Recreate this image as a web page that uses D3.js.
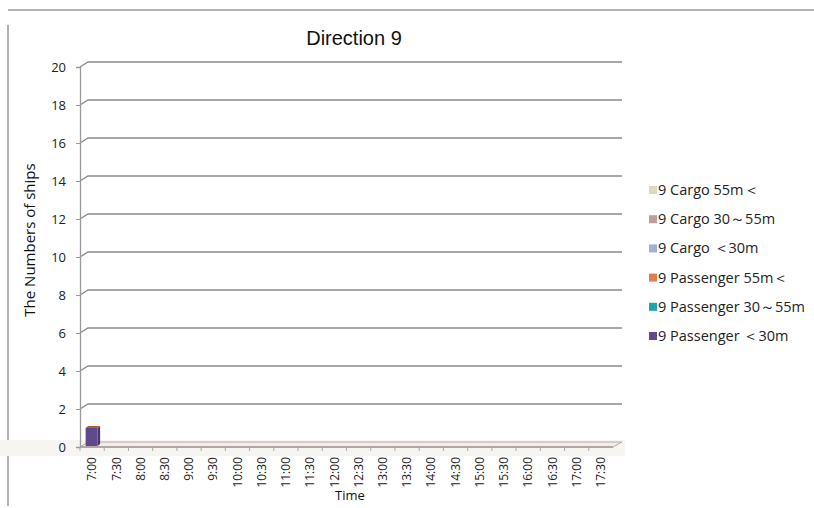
<!doctype html>
<html lang="en">
<head>
<meta charset="utf-8">
<title>Direction 9</title>
<style>
html, body { margin: 0; padding: 0; background: #fff; overflow: hidden; }
svg { display: block; }
.tick-y { font-family: 'Open Sans', sans-serif; font-size: 13px; fill: #222; }
.tick-x { font-family: 'Open Sans', sans-serif; font-size: 12px; fill: #222; }
.axis-title { font-family: 'Open Sans', sans-serif; font-size: 13px; fill: #111; }
.legend text { font-family: 'Open Sans', sans-serif; font-size: 14.5px; fill: #222; }
</style>
</head>
<body>
<script src="https://cdnjs.cloudflare.com/ajax/libs/d3/7.8.5/d3.min.js"></script>
<script>
// chart data
var times = ['7:00','7:30','8:00','8:30','9:00','9:30','10:00','10:30','11:00','11:30',
  '12:00','12:30','13:00','13:30','14:00','14:30','15:00','15:30','16:00','16:30','17:00','17:30'];
var seriesNames = ['9 Passenger \uFF1C30m', '9 Passenger 30\uFF5E55m', '9 Passenger 55m\uFF1C',
  '9 Cargo \uFF1C30m', '9 Cargo 30\uFF5E55m', '9 Cargo 55m\uFF1C'];
var passengerSmall = [1,0,0,0,0,0,0,0,0,0,0,0,0,0,0,0,0,0,0,0,0,0];
var passengerMid   = [0,0,0,0,0,0,0,0,0,0,0,0,0,0,0,0,0,0,0,0,0,0];
var passengerLarge = [0,0,0,0,0,0,0,0,0,0,0,0,0,0,0,0,0,0,0,0,0,0];
var cargoSmall     = [0,0,0,0,0,0,0,0,0,0,0,0,0,0,0,0,0,0,0,0,0,0];
var cargoMid       = [0,0,0,0,0,0,0,0,0,0,0,0,0,0,0,0,0,0,0,0,0,0];
var cargoLarge     = [0,0,0,0,0,0,0,0,0,0,0,0,0,0,0,0,0,0,0,0,0,0];
var yTicks = [0,2,4,6,8,10,12,14,16,18,20];

var colors = ['#604a8c', '#21a3b3', '#e0804f', '#9fb2d1', '#c19d9c', '#dcd8c1'];
var topColors = ['#b0602a', '#1a8591', '#b8663c', '#8093b0', '#9e7f7e', '#bbb7a0'];

var W = 814, H = 508;
var plot = { left: 80, right: 613, top: 67, bottom: 447 };
var depth = { dx: 8, dy: -5 };

var svg = d3.select('body').append('svg').attr('width', W).attr('height', H);

// frame
svg.append('line').attr('x1', 8).attr('x2', W).attr('y1', 10).attr('y2', 10)
  .attr('stroke', '#999').attr('stroke-width', 1.5);
svg.append('line').attr('x1', 8).attr('x2', 8).attr('y1', 25).attr('y2', 506)
  .attr('stroke', '#999').attr('stroke-width', 1.5);

// scanner-like light band
svg.append('rect').attr('x', 0).attr('y', 440).attr('width', 625).attr('height', 16).attr('fill', '#f6f5f2');

var xc = d3.scaleBand().domain(times).range([plot.left, plot.right]);
var y = d3.scaleLinear().domain([0, 20]).range([plot.bottom, plot.top]);

// gridlines (3D back wall)
var grid = svg.append('g');
yTicks.forEach(function (v) {
  if (v === 0) return;
  grid.append('path')
    .attr('d', 'M' + plot.left + ',' + y(v) + 'L' + (plot.left + depth.dx) + ',' + (y(v) + depth.dy) +
      'L' + (plot.right + depth.dx + 1) + ',' + (y(v) + depth.dy))
    .attr('fill', 'none').attr('stroke', '#8a8a8a').attr('stroke-width', 1.3);
});

// floor
svg.append('path')
  .attr('d', 'M' + plot.left + ',' + y(0) + 'L' + (plot.left + depth.dx) + ',' + (y(0) + depth.dy) +
    'L' + (plot.right + depth.dx + 1) + ',' + (y(0) + depth.dy) + 'L' + plot.right + ',' + y(0) + 'Z')
  .attr('fill', '#f0efec').attr('stroke', '#b9a8a4').attr('stroke-width', 1);
svg.append('line').attr('x1', plot.left).attr('x2', plot.right).attr('y1', y(0)).attr('y2', y(0))
  .attr('stroke', '#a89996').attr('stroke-width', 1.3);

// y axis
var yAxis = d3.axisLeft(y).tickValues(yTicks).tickSize(4).tickPadding(10);
var gy = svg.append('g').attr('transform', 'translate(' + plot.left + ',0)').call(yAxis);
gy.select('.domain').attr('stroke', '#999').attr('stroke-width', 1.3);
gy.selectAll('.tick line').attr('stroke', '#999');
gy.selectAll('.tick text').attr('class', 'tick-y').attr('font-family', null).attr('font-size', null);

// x axis
var xAxis = d3.axisBottom(xc).tickSize(4).tickPadding(0);
var gx = svg.append('g').attr('transform', 'translate(0,' + plot.bottom + ')').call(xAxis);
gx.select('.domain').remove();
gx.selectAll('.tick line').attr('stroke', '#aaa').attr('transform', function () {
  return 'translate(' + (-xc.bandwidth() / 2) + ',0)';
});
gx.selectAll('.tick text')
  .attr('class', 'tick-x').attr('font-family', null).attr('font-size', null)
  .attr('transform', 'translate(0,10) rotate(-90)')
  .attr('text-anchor', 'end').attr('dy', '0.35em').attr('x', 0).attr('y', 0);

// stacked bars
var table = times.map(function (t, i) {
  return { time: t, s0: passengerSmall[i], s1: passengerMid[i], s2: passengerLarge[i],
    s3: cargoSmall[i], s4: cargoMid[i], s5: cargoLarge[i] };
});
var stack = d3.stack().keys(['s0','s1','s2','s3','s4','s5'])(table);
var bars = svg.append('g');
var bw = 12, bdx = 2.5, bdy = -2;
stack.forEach(function (layer, k) {
  layer.forEach(function (d) {
    if (d[1] - d[0] <= 0) return;
    var cx = xc(d.data.time) + xc.bandwidth() / 2;
    var x0 = cx - bw / 2 - 0.5, x1 = x0 + bw;
    var yt = y(d[1]), yb = y(d[0]) - 1;
    bars.append('path')
      .attr('d', 'M' + x1 + ',' + yt + 'L' + (x1 + bdx) + ',' + (yt + bdy) + 'L' + (x1 + bdx) + ',' + (yb + bdy) + 'L' + x1 + ',' + yb + 'Z')
      .attr('fill', d3.color(colors[k]).darker(0.8));
    bars.append('rect').attr('x', x0).attr('y', yt).attr('width', bw).attr('height', yb - yt)
      .attr('fill', colors[k]);
    bars.append('path')
      .attr('d', 'M' + x0 + ',' + yt + 'L' + (x0 + bdx) + ',' + (yt + bdy) + 'L' + (x1 + bdx) + ',' + (yt + bdy) + 'L' + x1 + ',' + yt + 'Z')
      .attr('fill', topColors[k]);
  });
});

// titles
svg.append('text').attr('x', 354).attr('y', 45).attr('text-anchor', 'middle')
  .attr('font-family', 'Liberation Sans, Arial, sans-serif').attr('font-size', 20).attr('fill', '#111')
  .text('Direction 9');
svg.append('text').attr('class', 'axis-title').attr('x', 350).attr('y', 500).attr('text-anchor', 'middle').text('Time');
svg.append('text').attr('class', 'axis-title').attr('text-anchor', 'middle').attr('font-size', '15px')
  .style('font-size', '15px')
  .attr('transform', 'translate(35,240) rotate(-90)').text('The Numbers of ships');

// legend (reverse of stack order)
var legendItems = seriesNames.map(function (n, i) { return { name: n, color: colors[i] }; }).reverse();
var lg = svg.append('g').attr('class', 'legend');
var ly = d3.scalePoint().domain(d3.range(legendItems.length)).range([190, 336]);
legendItems.forEach(function (d, i) {
  var g = lg.append('g').attr('transform', 'translate(649,' + ly(i) + ')');
  g.append('rect').attr('x', 0).attr('y', -4).attr('width', 8).attr('height', 8).attr('fill', d.color);
  g.append('text').attr('x', 9).attr('y', 0).attr('dy', '0.35em').text(d.name);
});
</script>
</body>
</html>
